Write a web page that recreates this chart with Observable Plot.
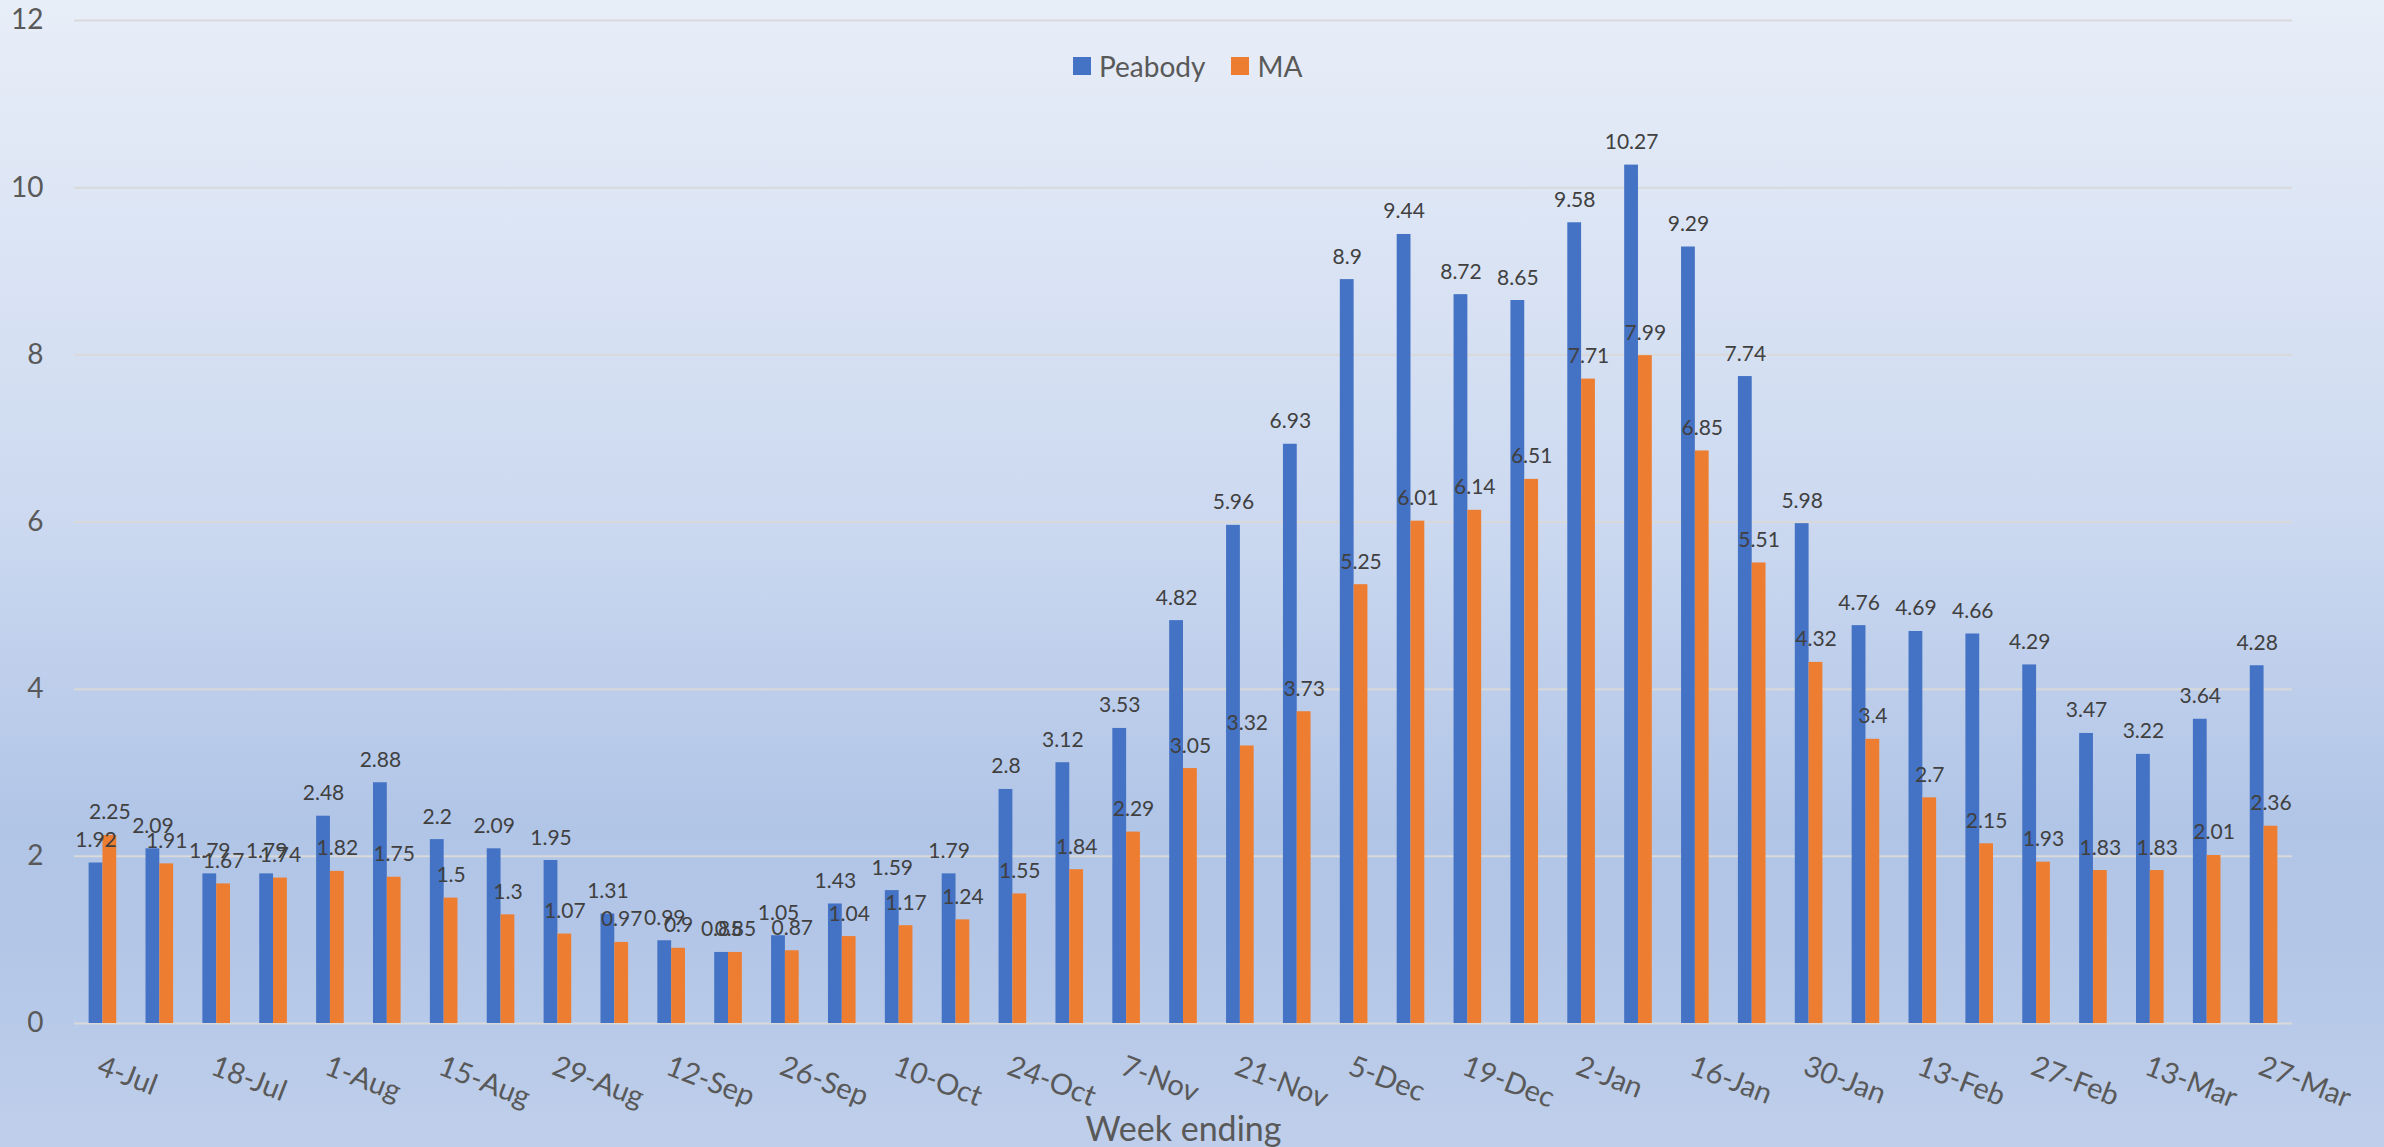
<!DOCTYPE html>
<html>
<head>
<meta charset="utf-8">
<script src="https://cdn.jsdelivr.net/npm/d3@7"></script>
<script src="https://cdn.jsdelivr.net/npm/@observablehq/plot@0.6"></script>
<style>
  html, body { margin: 0; padding: 0; }
  #wrap {
    position: relative; width: 2384px; height: 1147px; overflow: hidden;
    background: linear-gradient(180deg, #E8EEF8 0%, #CCD9F0 45%, #B1C5E7 72%, #B3C6E7 82%, #BFCFEB 100%);
    font-family: Lato, "Open Sans", sans-serif;
  }
  #legend { position: absolute; left: 1073px; top: 49px; display: flex; align-items: center; color: #595959; font-size: 28px; }
  #legend .sw { width: 18px; height: 18px; display: inline-block; margin-right: 8px; }
  #legend .item { display: flex; align-items: center; margin-right: 26px; }
</style>
</head>
<body>
<div id="wrap">
  <div id="chart"></div>
  <div id="legend">
    <div class="item"><span class="sw" style="background:#4472C4"></span>Peabody</div>
    <div class="item"><span class="sw" style="background:#ED7D31"></span>MA</div>
  </div>
</div>
<script>
const weeks = ["4-Jul","11-Jul","18-Jul","25-Jul","1-Aug","8-Aug","15-Aug","22-Aug","29-Aug","5-Sep",
  "12-Sep","19-Sep","26-Sep","3-Oct","10-Oct","17-Oct","24-Oct","31-Oct","7-Nov","14-Nov",
  "21-Nov","28-Nov","5-Dec","12-Dec","19-Dec","26-Dec","2-Jan","9-Jan","16-Jan","23-Jan",
  "30-Jan","6-Feb","13-Feb","20-Feb","27-Feb","6-Mar","13-Mar","20-Mar","27-Mar"];
const peabody = [1.92,2.09,1.79,1.79,2.48,2.88,2.2,2.09,1.95,1.31,
  0.99,0.85,1.05,1.43,1.59,1.79,2.8,3.12,3.53,4.82,
  5.96,6.93,8.9,9.44,8.72,8.65,9.58,10.27,9.29,7.74,
  5.98,4.76,4.69,4.66,4.29,3.47,3.22,3.64,4.28];
const ma = [2.25,1.91,1.67,1.74,1.82,1.75,1.5,1.3,1.07,0.97,
  0.9,0.85,0.87,1.04,1.17,1.24,1.55,1.84,2.29,3.05,
  3.32,3.73,5.25,6.01,6.14,6.51,7.71,7.99,6.85,5.51,
  4.32,3.4,2.7,2.15,1.93,1.83,1.83,2.01,2.36];
const xTickLabels = weeks.filter((d, i) => i % 2 === 0);
const yTicks = [0, 2, 4, 6, 8, 10, 12];

const W = 2384, H = 1147, ML = 74, MR = 92, MT = 20, MB = 124;
const step = (W - ML - MR) / weeks.length;
const barW = 13.8;
const half = step / 2;

const pData = weeks.map((w, i) => ({week: w, value: peabody[i]}));
const mData = weeks.map((w, i) => ({week: w, value: ma[i]}));

const labelColor = "#404040";
const tickColor = "#595959";

const chart = Plot.plot({
  width: W, height: H,
  marginLeft: ML, marginRight: MR, marginTop: MT, marginBottom: MB,
  style: {background: "transparent", fontFamily: "Lato, 'Open Sans', sans-serif", overflow: "visible"},
  x: {type: "band", domain: weeks, padding: 0, axis: null},
  y: {domain: [0, 12], axis: null},
  marks: [
    Plot.gridY(yTicks, {stroke: "#D9D9D9", strokeOpacity: 1, strokeWidth: 2}),
    Plot.axisY(yTicks, {tickSize: 0, tickPadding: 31, fontSize: 28, color: tickColor, fill: tickColor,
      label: null, tickFormat: d => String(d)}),
    Plot.barY(pData, {x: "week", y: "value", fill: "#4472C4", insetLeft: half - barW, insetRight: half}),
    Plot.barY(mData, {x: "week", y: "value", fill: "#ED7D31", insetLeft: half, insetRight: half - barW}),
    Plot.text(pData, {x: "week", y: "value", text: d => String(d.value), dx: -barW / 2, dy: -16,
      lineAnchor: "bottom", fontSize: 21, fill: labelColor}),
    Plot.text(mData, {x: "week", y: "value", text: d => String(d.value), dx: barW / 2, dy: -16,
      lineAnchor: "bottom", fontSize: 21, fill: labelColor}),
    Plot.text(xTickLabels, {x: d => d, text: d => d, frameAnchor: "bottom", dy: 31, rotate: 21,
      textAnchor: "start", lineAnchor: "top", fontSize: 29, fill: tickColor}),
    Plot.text(["Week ending"], {frameAnchor: "bottom", dy: 117, lineAnchor: "bottom", fontSize: 34, fill: tickColor})
  ]
});
document.getElementById("chart").appendChild(chart);
</script>
</body>
</html>
